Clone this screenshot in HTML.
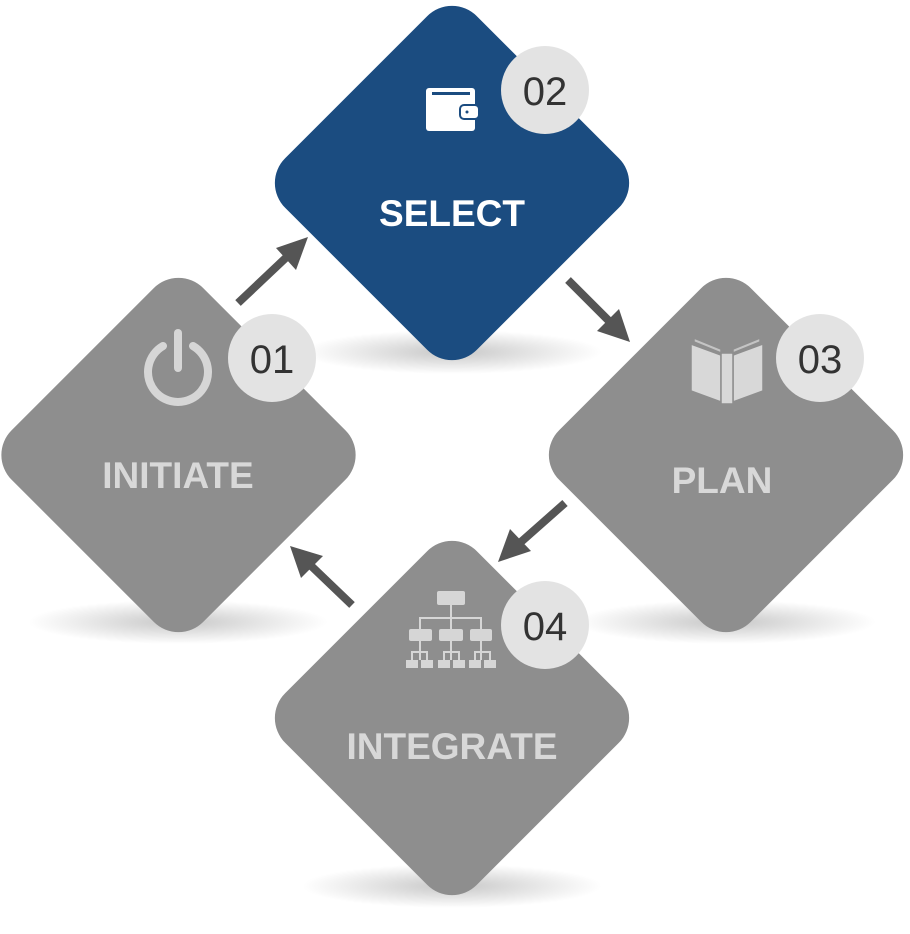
<!DOCTYPE html>
<html><head><meta charset="utf-8"><style>
html,body{margin:0;padding:0;background:#fff;}
svg{display:block;}
text{font-family:"Liberation Sans",sans-serif;}
</style></head><body>
<svg width="910" height="934" viewBox="0 0 910 934">
<defs>
<radialGradient id="sh" cx="50%" cy="50%" r="50%">
<stop offset="0" stop-color="#000" stop-opacity="0.22"/>
<stop offset="1" stop-color="#000" stop-opacity="0"/>
</radialGradient>
</defs>
<ellipse cx="452" cy="352" rx="150" ry="22" fill="url(#sh)"/>
<ellipse cx="178" cy="622" rx="150" ry="22" fill="url(#sh)"/>
<ellipse cx="726" cy="622" rx="150" ry="22" fill="url(#sh)"/>
<ellipse cx="452" cy="886" rx="150" ry="22" fill="url(#sh)"/>
<rect x="316.5" y="47.5" width="271" height="271" rx="35" fill="#1b4c80" transform="rotate(45 452 183)"/>
<rect x="43" y="319.5" width="271" height="271" rx="35" fill="#8e8e8e" transform="rotate(45 178.5 455)"/>
<rect x="590.5" y="319.5" width="271" height="271" rx="35" fill="#8e8e8e" transform="rotate(45 726 455)"/>
<rect x="316.5" y="582.5" width="271" height="271" rx="35" fill="#8e8e8e" transform="rotate(45 452 718)"/>
<g stroke="#555" stroke-width="8" fill="#555">
<line x1="238" y1="303" x2="292" y2="252"/>
<line x1="568" y1="280" x2="615" y2="327"/>
<line x1="565" y1="503" x2="513" y2="549"/>
<line x1="352" y1="605" x2="305" y2="560"/>
</g>
<g fill="#555">
<polygon points="308,237 296,270 276,248" />
<polygon points="630,342 597,331 619,309"/>
<polygon points="498,562 510,529 531,551"/>
<polygon points="290,546 323,556 301,578"/>
</g>
<text x="452" y="226" text-anchor="middle" font-size="37" font-weight="bold" fill="#fff">SELECT</text>
<text x="178" y="488" text-anchor="middle" font-size="37" font-weight="bold" fill="#d8d8d8">INITIATE</text>
<text x="722" y="493" text-anchor="middle" font-size="37" font-weight="bold" fill="#d8d8d8">PLAN</text>
<text x="452" y="759" text-anchor="middle" font-size="37" font-weight="bold" fill="#d8d8d8">INTEGRATE</text>
<rect x="426" y="88" width="49" height="43" rx="3" fill="#fff"/>
<rect x="432" y="92" width="38" height="3" fill="#1b4c80"/>
<rect x="460" y="105" width="19" height="14" rx="4" fill="#fff" stroke="#1b4c80" stroke-width="2"/>
<circle cx="467" cy="112" r="1.5" fill="#1b4c80"/>
<path d="M163 346 A30 30 0 1 0 193 346" fill="none" stroke="#d6d6d6" stroke-width="8" stroke-linecap="round"/>
<line x1="178" y1="333" x2="178" y2="368" stroke="#d6d6d6" stroke-width="8" stroke-linecap="round"/>
<g fill="#d8d8d8" stroke="#8e8e8e" stroke-width="1.5">
<polygon points="691,344 721,355 721,402 691,391"/>
<polygon points="733,355 763,344 763,391 733,402"/>
<rect x="721" y="353" width="12" height="51"/>
<polygon points="694,338 721,349 721,353 694,342" fill="#c4c4c4"/>
<polygon points="733,349 760,338 760,342 733,353" fill="#c4c4c4"/>
</g>
<g fill="#d6d6d6">
<rect x="437" y="591" width="28" height="14" rx="2"/>
<rect x="409" y="629" width="23" height="12" rx="2"/>
<rect x="439" y="629" width="24" height="12" rx="2"/>
<rect x="470" y="629" width="22" height="12" rx="2"/>
<rect x="406" y="660" width="12" height="8"/><rect x="421" y="660" width="12" height="8"/>
<rect x="438" y="660" width="12" height="8"/><rect x="453" y="660" width="12" height="8"/>
<rect x="469" y="660" width="12" height="8"/><rect x="484" y="660" width="12" height="8"/>
</g>
<g stroke="#d6d6d6" stroke-width="2" fill="none">
<path d="M451 605 V629 M420 629 V618 H481 V629"/>
<path d="M420 641 V660 M412 660 V652 H427 V660"/>
<path d="M451 641 V660 M444 660 V652 H459 V660"/>
<path d="M481 641 V660 M475 660 V652 H490 V660"/>
</g>
<g fill="#e3e3e3">
<circle cx="545" cy="90" r="44"/>
<circle cx="272" cy="358" r="44"/>
<circle cx="820" cy="358" r="44"/>
<circle cx="545" cy="625" r="44"/>
</g>
<g font-size="40" fill="#333" text-anchor="middle">
<text x="545" y="105">02</text>
<text x="272" y="373">01</text>
<text x="820" y="373">03</text>
<text x="545" y="640">04</text>
</g>
</svg>
</body></html>
